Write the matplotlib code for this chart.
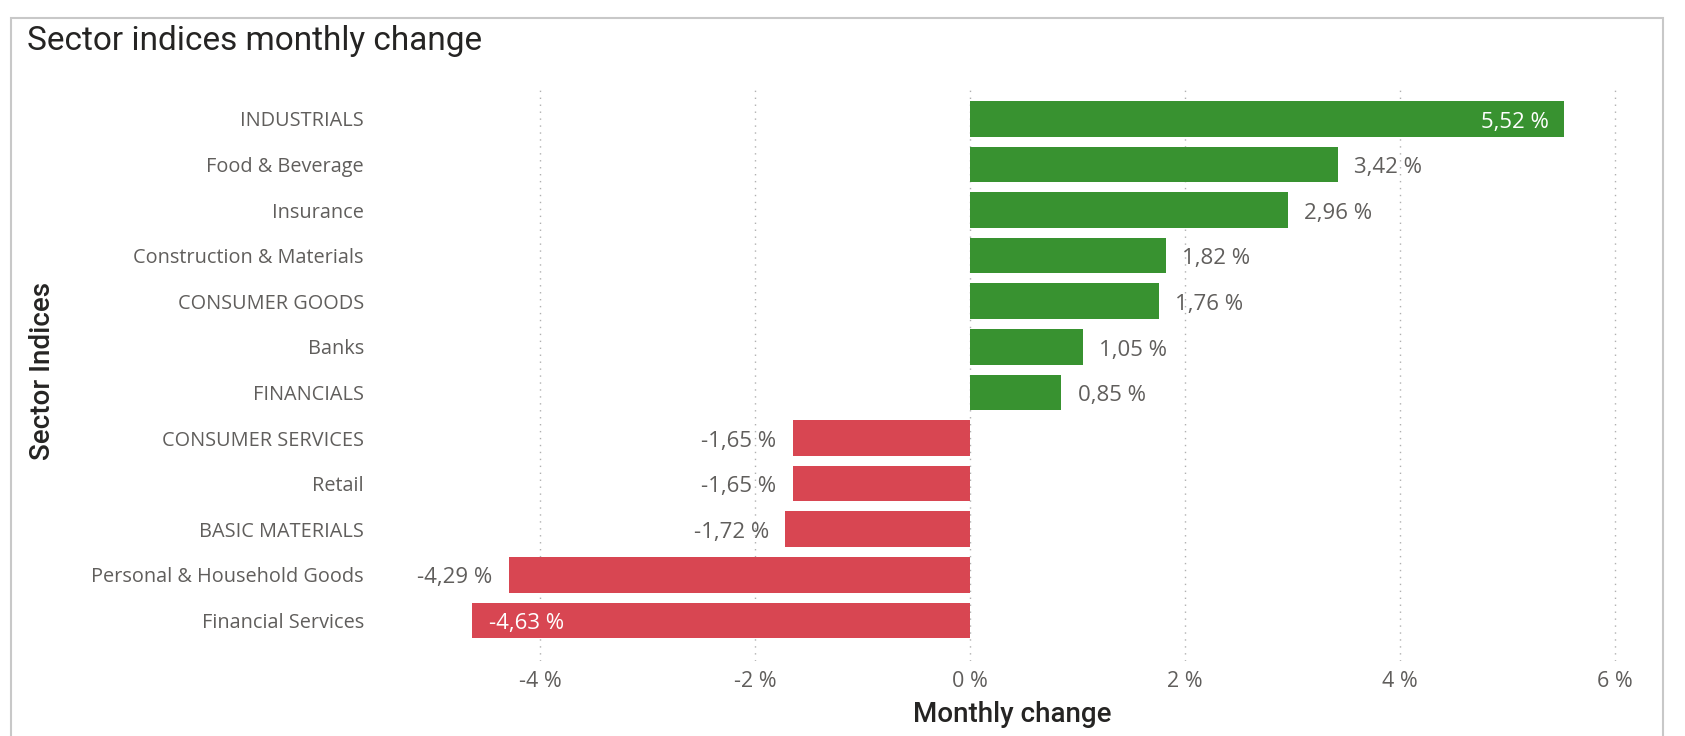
import matplotlib.pyplot as plt
from matplotlib.patches import Rectangle

sectors = ["INDUSTRIALS", "Food & Beverage", "Insurance", "Construction & Materials",
           "CONSUMER GOODS", "Banks", "FINANCIALS", "CONSUMER SERVICES", "Retail",
           "BASIC MATERIALS", "Personal & Household Goods", "Financial Services"]
changes = [5.52, 3.42, 2.96, 1.82, 1.76, 1.05, 0.85, -1.65, -1.65, -1.72, -4.29, -4.63]
x_ticks = [-4, -2, 0, 2, 4, 6]

GREEN = "#389230"
RED = "#D84652"
GRAY = "#605E5C"
DARK = "#252423"

plt.rcParams['font.family'] = ['Open Sans', 'DejaVu Sans']

fig = plt.figure(figsize=(16.85, 7.36), dpi=100)
ax = fig.add_axes([0.263, 0.102, 0.965 - 0.263, 0.883 - 0.102])

# outer visual frame
fig.patches.append(Rectangle((11 / 1685, -0.01), (1663 - 11) / 1685, 1 - 18 / 736 + 0.01,
                             transform=fig.transFigure, fill=False,
                             edgecolor="#C8C8C8", linewidth=1.5))

pos = list(range(len(sectors)))
colors = [GREEN if v >= 0 else RED for v in changes]
ax.barh(pos, changes, height=0.78, color=colors, zorder=2)

ax.set_xlim(-4.9, 6.1)
ax.set_ylim(11.89, -0.72)

ax.set_yticks(pos)
ax.set_yticklabels(sectors, fontsize=14.3, color=GRAY)
ax.set_xticks(x_ticks)
ax.set_xticklabels([f"{t} %" for t in x_ticks], fontsize=15.5, color=GRAY)
ax.tick_params(axis="y", length=0, pad=57)
ax.tick_params(axis="x", length=0, pad=7)

ax.grid(axis="x", linestyle=(0, (1, 4)), color="#B0B0B0", linewidth=1, zorder=0)
for s in ax.spines.values():
    s.set_visible(False)

# value labels
for p, v in zip(pos, changes):
    txt = f"{v:.2f} %".replace(".", ",")
    y = p + 0.07
    if v >= 5:
        ax.text(v - 0.14, y, txt, ha="right", va="center", color="white", fontsize=16)
    elif v <= -4.5:
        ax.text(v + 0.16, y, txt, ha="left", va="center", color="white", fontsize=16)
    elif v >= 0:
        ax.text(v + 0.15, y, txt, ha="left", va="center", color=GRAY, fontsize=16)
    else:
        ax.text(v - 0.15, y, txt, ha="right", va="center", color=GRAY, fontsize=16)

title_font = ['Roboto', 'DejaVu Sans']
fig.text(1012 / 1685, 1 - 715 / 736, "Monthly change", ha="center", va="center",
         fontsize=20, color=DARK, family=title_font, fontweight="medium")
fig.text(43 / 1685, 1 - 371 / 736, "Sector Indices", rotation=90, ha="center", va="center",
         fontsize=20, color=DARK, family=title_font, fontweight="medium")
fig.text(27 / 1685, 1 - 41 / 736, "Sector indices monthly change", ha="left", va="center",
         fontsize=24, color=DARK, family=title_font)

fig.savefig("out.png", dpi=100)
